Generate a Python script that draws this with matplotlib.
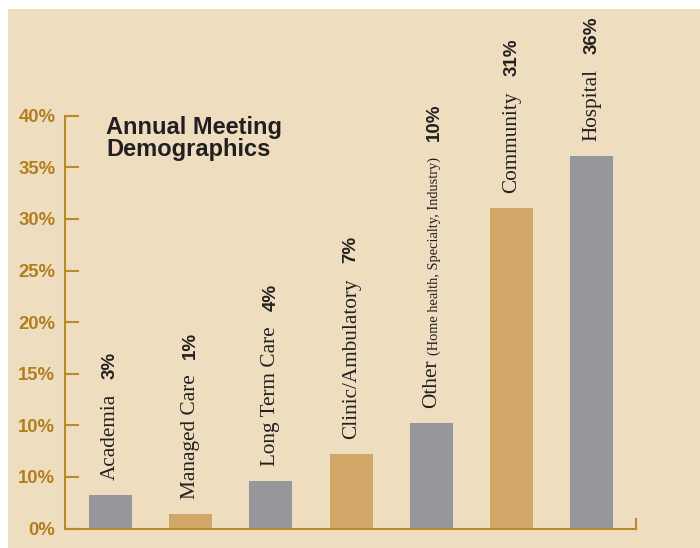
import matplotlib.pyplot as plt
from matplotlib.patches import Rectangle

# chart data
categories = ['Academia', 'Managed Care', 'Long Term Care', 'Clinic/Ambulatory',
              'Other', 'Community', 'Hospital']
sub_labels = ['', '', '', '', '(Home health, Specialty, Industry)', '', '']
values = [3.2, 1.4, 4.6, 7.2, 10.2, 31.1, 36.1]
value_labels = ['3%', '1%', '4%', '7%', '10%', '31%', '36%']
ytick_values = [0, 5, 10, 15, 20, 25, 30, 35, 40]
ytick_labels = ['0%', '10%', '10%', '15%', '20%', '25%', '30%', '35%', '40%']

beige = '#EFDDC0'
grey = '#96979B'
tan = '#D0A767'
gold = '#BA8A2A'
gold_text = '#B27D1C'
bar_colors = [grey, tan, grey, tan, grey, tan, grey]

fig = plt.figure(figsize=(7, 5.48), dpi=100, facecolor='white')
# beige panel behind everything (white strip at top and left)
fig.add_artist(Rectangle((8 / 700, 0), 1, 1 - 9 / 548, transform=fig.transFigure,
                         facecolor=beige, edgecolor='none', zorder=-10))

ax = fig.add_axes([65 / 700, 19.5 / 548, 571 / 700, 412.8 / 548])
ax.set_facecolor('none')

x = list(range(len(categories)))
ax.bar(x, values, width=0.536, color=bar_colors, zorder=2)

ax.set_xlim(-0.567, 6.55)
ax.set_ylim(0, 40)

for s in ['top', 'right']:
    ax.spines[s].set_visible(False)
for s in ['left', 'bottom']:
    ax.spines[s].set_color(gold)
    ax.spines[s].set_linewidth(1.5)
# small upturn at the right end of the baseline
ax.axvline(6.55, ymin=0, ymax=10 / 412.8, color=gold, linewidth=1.5, clip_on=False)

ax.set_xticks([])
ax.set_yticks(ytick_values)
ax.set_yticklabels(ytick_labels, fontfamily='Liberation Sans', fontweight='bold',
                   fontsize=13.3, color=gold_text)
ax.tick_params(axis='y', direction='in', length=10, width=1.5, color=gold, pad=7)

serif = 'Liberation Serif'
sans = 'Liberation Sans'
for i, (name, sub, v, lab) in enumerate(zip(categories, sub_labels, values, value_labels)):
    t = ax.annotate(name, xy=(i, v), xytext=(0, 10.8), textcoords='offset points',
                    rotation=90, ha='center', va='bottom', fontfamily=serif,
                    fontsize=15.3, color='#231F20', annotation_clip=False)
    last = t
    if sub:
        last = ax.annotate(sub, xy=(1, 1), xycoords=t, xytext=(0, 3.6),
                           textcoords='offset points', rotation=90, ha='right',
                           va='bottom', fontfamily=serif, fontsize=10.4,
                           color='#231F20', annotation_clip=False)
    ax.annotate(lab, xy=(0.5, 1), xycoords=last, xytext=(0, 11),
                textcoords='offset points', rotation=90, ha='center', va='bottom',
                fontfamily=sans, fontweight='bold', fontsize=13.5, color='#231F20',
                annotation_clip=False)

fig.text(106 / 700, 1 - 116 / 548, 'Annual Meeting\nDemographics', ha='left', va='top',
         fontfamily=sans, fontweight='bold', fontsize=17, linespacing=0.93,
         color='#231F20')

fig.savefig('out.png', dpi=100, facecolor=fig.get_facecolor())
